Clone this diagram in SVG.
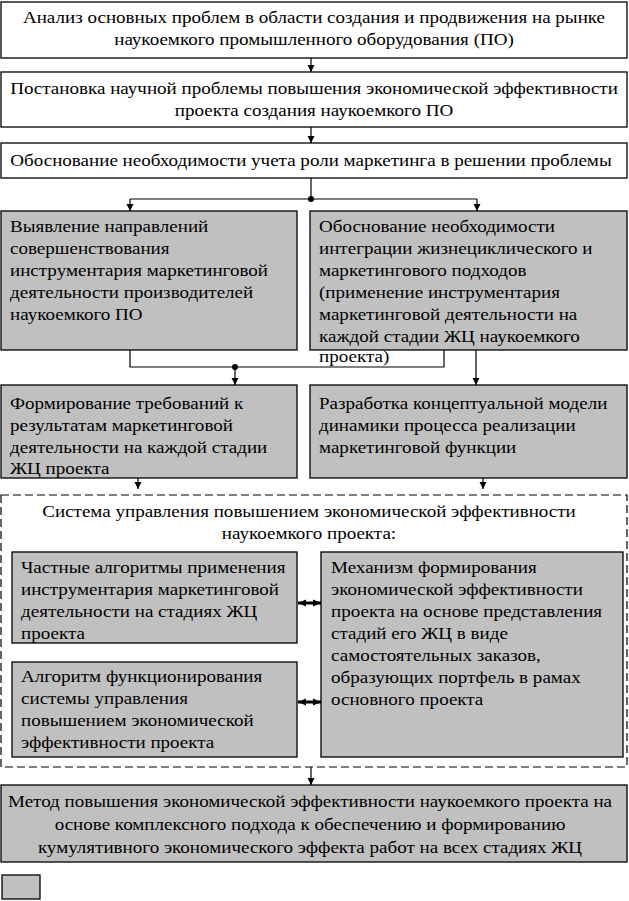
<svg xmlns="http://www.w3.org/2000/svg" width="629" height="901" viewBox="0 0 629 901">
<defs>
<marker id="ah" markerWidth="8" markerHeight="8" refX="7" refY="4" orient="auto" markerUnits="userSpaceOnUse">
<path d="M0,0.5 L7,4 L0,7.5 Z" fill="#000"/>
</marker>
<marker id="dh" markerWidth="9" markerHeight="8" refX="8" refY="4" orient="auto-start-reverse" markerUnits="userSpaceOnUse">
<path d="M0,0.5 L8,4 L0,7.5 Z" fill="#000"/>
</marker>
</defs>
<style>
.w{fill:#fff;stroke:#000;stroke-width:1.3}
.g{fill:#c0c0c0;stroke:#000;stroke-width:1.3}
.d{fill:none;stroke:#000;stroke-width:1.2;stroke-dasharray:8,4}
text{font-family:"Liberation Serif","Times New Roman",serif;font-size:16px;fill:#000}
.c text{text-anchor:middle}
.ln{fill:none;stroke:#000;stroke-width:1.2}
.dbl{fill:none;stroke:#000;stroke-width:3}
</style>
<rect width="629" height="901" fill="#fff"/>

<g id="n1"><rect class="w" x="1" y="2" width="626" height="56"/>
<g class="c" transform="translate(314 0) scale(1.19 1)">
<text x="0" y="23">Анализ основных проблем в области создания и продвижения на рынке</text>
<text x="0" y="45">наукоемкого промышленного оборудования (ПО)</text></g></g>

<g id="n2"><rect class="w" x="1" y="72" width="626" height="55"/>
<g class="c" transform="translate(314 0) scale(1.19 1)">
<text x="0" y="94">Постановка научной проблемы повышения экономической эффективности</text>
<text x="0" y="116">проекта создания наукоемкого ПО</text></g></g>

<g id="n3"><rect class="w" x="1" y="143" width="626" height="35"/>
<g class="c" transform="translate(311 0) scale(1.19 1)">
<text x="0" y="166">Обоснование необходимости учета роли маркетинга в решении проблемы</text></g></g>

<g id="n4"><rect class="g" x="1" y="211" width="296" height="139"/>
<g transform="translate(10 0) scale(1.19 1)">
<text x="0" y="232">Выявление направлений</text>
<text x="0" y="254">совершенствования</text>
<text x="0" y="276">инструментария маркетинговой</text>
<text x="0" y="298">деятельности производителей</text>
<text x="0" y="320">наукоемкого ПО</text></g></g>

<g id="n5"><rect class="g" x="310" y="211" width="317" height="139"/>
<g transform="translate(319 0) scale(1.19 1)">
<text x="0" y="232">Обоснование необходимости</text>
<text x="0" y="254">интеграции жизнециклического и</text>
<text x="0" y="276">маркетингового подходов</text>
<text x="0" y="298">(применение инструментария</text>
<text x="0" y="320">маркетинговой деятельности на</text>
<text x="0" y="342">каждой стадии ЖЦ наукоемкого</text>
<text x="0" y="362">проекта)</text></g></g>

<g id="n6"><rect class="g" x="1" y="385" width="296" height="93"/>
<g transform="translate(10 0) scale(1.19 1)">
<text x="0" y="409">Формирование требований к</text>
<text x="0" y="431">результатам маркетинговой</text>
<text x="0" y="453">деятельности на каждой стадии</text>
<text x="0" y="474">ЖЦ проекта</text></g></g>

<g id="n7"><rect class="g" x="310" y="385" width="317" height="93"/>
<g transform="translate(319 0) scale(1.19 1)">
<text x="0" y="409">Разработка концептуальной модели</text>
<text x="0" y="431">динамики процесса реализации</text>
<text x="0" y="453">маркетинговой функции</text></g></g>

<g id="n-system"><rect class="d" x="1" y="495" width="626" height="272"/>
<g class="c" transform="translate(309 0) scale(1.19 1)">
<text x="0" y="517">Система управления повышением экономической эффективности</text>
<text x="0" y="539">наукоемкого проекта:</text></g></g>

<g id="n8"><rect class="g" x="12" y="552" width="285" height="91"/>
<g transform="translate(21 0) scale(1.19 1)">
<text x="0" y="573">Частные алгоритмы применения</text>
<text x="0" y="595">инструментария маркетинговой</text>
<text x="0" y="617">деятельности на стадиях ЖЦ</text>
<text x="0" y="639">проекта</text></g></g>

<g id="n9"><rect class="g" x="12" y="662" width="285" height="95"/>
<g transform="translate(21 0) scale(1.19 1)">
<text x="0" y="682">Алгоритм функционирования</text>
<text x="0" y="704">системы управления</text>
<text x="0" y="726">повышением экономической</text>
<text x="0" y="748">эффективности проекта</text></g></g>

<g id="n10"><rect class="g" x="321" y="552" width="302" height="205"/>
<g transform="translate(331 0) scale(1.19 1)">
<text x="0" y="573">Механизм формирования</text>
<text x="0" y="595">экономической эффективности</text>
<text x="0" y="617">проекта на основе представления</text>
<text x="0" y="639">стадий его ЖЦ в виде</text>
<text x="0" y="661">самостоятельных заказов,</text>
<text x="0" y="683">образующих портфель в рамах</text>
<text x="0" y="705">основного проекта</text></g></g>

<g id="n11"><rect class="g" x="1" y="785" width="626" height="77"/>
<g class="c" transform="translate(310 0) scale(1.19 1)">
<text x="0" y="807">Метод повышения экономической эффективности наукоемкого проекта на</text>
<text x="0" y="830">основе комплексного подхода к обеспечению и формированию</text>
<text x="0" y="853">кумулятивного экономического эффекта работ на всех стадиях ЖЦ</text></g></g>

<g id="legend"><rect class="g" x="2" y="875" width="38" height="24"/></g>

<g id="connectors">
<line class="ln" x1="311" y1="58" x2="311" y2="72" marker-end="url(#ah)"/>
<line class="ln" x1="311" y1="127" x2="311" y2="143" marker-end="url(#ah)"/>
<line class="ln" x1="311" y1="178" x2="311" y2="199"/>
<line class="ln" x1="130" y1="199" x2="477" y2="199"/>
<circle cx="311" cy="199" r="3"/>
<line class="ln" x1="130" y1="199" x2="130" y2="211" marker-end="url(#ah)"/>
<line class="ln" x1="477" y1="199" x2="477" y2="211" marker-end="url(#ah)"/>
<polyline class="ln" points="130,350 130,367 444,367 444,350"/>
<circle cx="235" cy="367" r="3"/>
<line class="ln" x1="235" y1="367" x2="235" y2="385" marker-end="url(#ah)"/>
<line class="ln" x1="476" y1="350" x2="476" y2="385" marker-end="url(#ah)"/>
<line class="ln" x1="138" y1="478" x2="138" y2="489" marker-end="url(#ah)"/>
<line class="ln" x1="483" y1="478" x2="483" y2="489" marker-end="url(#ah)"/>
<line class="dbl" x1="298" y1="603" x2="321" y2="603" marker-start="url(#dh)" marker-end="url(#dh)"/>
<line class="dbl" x1="298" y1="702" x2="321" y2="702" marker-start="url(#dh)" marker-end="url(#dh)"/>
<line class="ln" x1="311" y1="767" x2="311" y2="785" marker-end="url(#ah)"/>
</g>
</svg>
